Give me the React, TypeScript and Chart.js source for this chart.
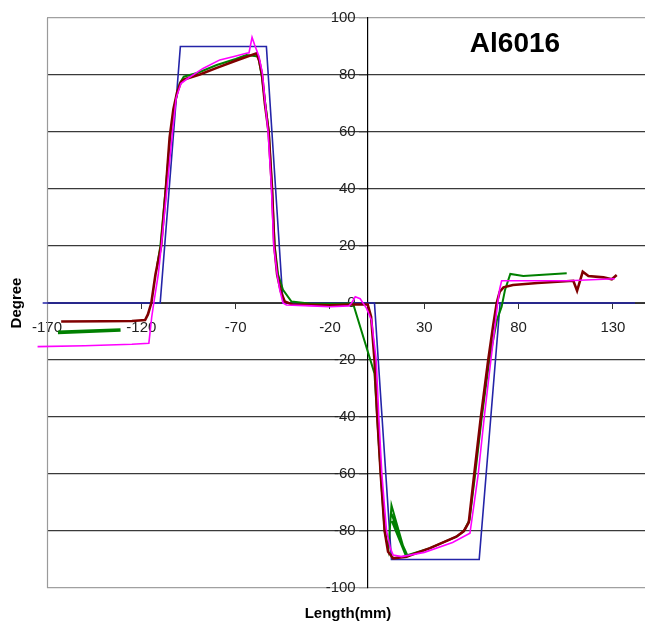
import React, { useEffect, useRef } from 'react';
import { Chart, registerables } from 'chart.js';

Chart.register(...registerables);

const CHART_TITLE = 'Al6016';
const X_TITLE = 'Length(mm)';
const Y_TITLE = 'Degree';

const xTickValues = [-170, -120, -70, -20, 30, 80, 130];
const X_MIN = -170;
const X_MAX = 147;
const Y_MIN = -100;
const Y_MAX = 100;
const Y_STEP = 20;

// Target profile (blue)
const targetX = [-172.3, -110, -99.3, -53.7, -44.9, 3.6, 12.6, 59.1, 70.2, 141.7];
const targetY = [0, 0, 90, 90, 0, 0, -90, -90, 0, 0];

// Measured profile 1 (maroon)
const maroonX = [-162.5, -140, -125, -118, -116.5, -114.7, -112.5, -109.5, -107, -105, -103, -101, -99, -97, -89, -80, -70, -59, -57.5, -56, -54.5, -52.5, -50.7, -49.5, -48, -46, -44, -40, -20, -8, 0, 1.8, 3.6, 5.1, 6.9, 9, 10.8, 13.5, 20.6, 33, 47, 51, 53.6, 56.5, 60, 63.9, 66.5, 68.4, 70, 72, 77, 90, 109, 111, 114, 117, 125, 129.4, 132];
const maroonY = [-6.5, -6.4, -6.3, -6, -4, 0, 10, 20, 40, 58, 68, 74, 77.5, 78.5, 80.2, 82.5, 85, 87.6, 85, 80, 70, 60, 40, 20, 10, 4, 0.5, -0.5, -0.8, -0.5, -0.5, -4.8, -20, -40, -60, -80, -87.3, -89.6, -89, -86, -82, -80, -77, -60, -40, -20, -8, 0, 4, 5.5, 6.3, 7, 7.8, 4.3, 11, 9.5, 9, 8.3, 9.8];

// Measured profile 2 (green), first short segment
const greenAX = [-164.2, -131];
const greenAY = [-10.3, -9.5];

// Measured profile 2 (green), main segment
const greenBX = [-111.7, -109.9, -107.1, -104.4, -101.5, -99.7, -97.5, -90, -80, -70, -64.3, -58, -56, -54.3, -52.4, -50.7, -49.3, -47.5, -44.9, -40.4, -30, -15, -7.8, 3.6, 5, 6.9, 9, 11, 12.6, 20.5, 12.7, 20.3, 12.8, 21, 33, 47, 51, 54, 57, 60.5, 64.5, 68.5, 71, 72.8, 75.6, 82.5, 95, 105.5];
const greenBY = [12.8, 20, 40, 60, 72, 77, 79.4, 80.8, 83.5, 85.6, 87, 86.5, 79, 70, 60, 40, 20, 10, 4.6, 0.5, -0.3, -0.3, -0.1, -24.7, -40, -60, -80, -86.5, -71, -89.3, -74, -88.8, -76.5, -88.5, -86, -82, -80, -76, -60, -40, -20, -6, -1.3, 4.6, 10.2, 9.5, 10, 10.4];

// Measured profile 3 (magenta)
const magentaX = [-175, -150, -125, -116, -114.5, -113.4, -111, -109.4, -106.4, -103.5, -101.5, -99, -96, -87.3, -78.4, -71.4, -64.3, -62.9, -61.3, -59.9, -57.6, -55.8, -54.6, -52.8, -51, -49.8, -48, -46.6, -44.9, -43.1, -30, -20, -10, -8.5, -6.6, -4, -2, -0.6, 2, 4.5, 5.9, 7.5, 10, 12, 13.5, 18, 30, 45, 54.2, 56.5, 58.6, 61.8, 65.3, 67.5, 68.9, 70, 71, 85, 106.3, 131];
const magentaY = [-15.3, -15, -14.5, -14.1, -5, 0, 10, 20, 40, 60, 72, 77, 78.5, 82.3, 85.3, 86.4, 87.6, 87.8, 93.2, 90.5, 86.4, 80.6, 72, 60, 40, 20, 10, 4.6, 0, -0.7, -1, -1.3, -1, 0, 2.2, 1.5, -0.5, -1.9, -6, -20, -40, -60, -80, -86, -88.4, -89, -87.5, -84, -80.8, -70, -60, -40, -20, -8, 0, 5, 7.8, 7.8, 7.8, 8.5];

const FONT = '"Liberation Sans", Arial, Helvetica, sans-serif';
const Y_LABEL_GAP = 12;

function pts(xs: number[], ys: number[]) {
  return xs.map((x, i) => ({ x, y: ys[i] }));
}

const framePlugin = {
  id: 'frameAndTexts',
  beforeDraw(chart: any) {
    // move the y tick labels to the left of the centred axis line
    const s: any = chart.scales.y;
    if (s && typeof s._computeLabelItems === 'function') {
      const items = s._computeLabelItems(chart.chartArea);
      items.forEach((it: any) => {
        const t = it.options.translation;
        it.options.translation = [t[0] - Y_LABEL_GAP, t[1]];
      });
      s._labelItems = items;
    }
  },
  beforeDatasetsDraw(chart: any) {
    const { ctx, chartArea } = chart;
    ctx.save();
    ctx.strokeStyle = '#9a9a9a';
    ctx.lineWidth = 1.2;
    ctx.beginPath();
    ctx.moveTo(chartArea.left + 0.5, chartArea.top);
    ctx.lineTo(chartArea.left + 0.5, chartArea.bottom);
    ctx.stroke();
    ctx.restore();
  },
  afterDraw(chart: any) {
    const { ctx } = chart;
    ctx.save();
    ctx.fillStyle = '#000';
    ctx.textAlign = 'center';
    ctx.textBaseline = 'middle';
    ctx.font = `bold 28px ${FONT}`;
    ctx.fillText(CHART_TITLE, 515, 44);
    ctx.font = `bold 15px ${FONT}`;
    ctx.fillText(X_TITLE, 348, 614);
    ctx.translate(17, 303);
    ctx.rotate(-Math.PI / 2);
    ctx.fillText(Y_TITLE, 0, 0);
    ctx.restore();
  },
};

export default function App() {
  const canvasRef = useRef<HTMLCanvasElement | null>(null);

  useEffect(() => {
    const canvas = canvasRef.current;
    if (!canvas) return;
    const lineDs = (label: string, xs: number[], ys: number[], color: string, width: number, order: number) => ({
      label,
      data: pts(xs, ys),
      borderColor: color,
      backgroundColor: color,
      borderWidth: width,
      pointRadius: 0,
      pointHoverRadius: 0,
      fill: false,
      tension: 0,
      clip: false as any,
      order,
    });
    const chart = new Chart(canvas, {
      type: 'line',
      data: {
        datasets: [
          lineDs('Measured 3', magentaX, magentaY, '#ff00ff', 1.6, 0),
          lineDs('Measured 1', maroonX, maroonY, '#800000', 2.6, 1),
          lineDs('Measured 2', greenBX, greenBY, '#008000', 2, 2),
          lineDs('Measured 2b', greenAX, greenAY, '#008000', 3.6, 2),
          lineDs('Target', targetX, targetY, '#2424a8', 1.6, 3),
        ],
      },
      options: {
        responsive: false,
        animation: false,
        devicePixelRatio: 1,
        layout: { padding: { left: 47, top: 18, right: 0, bottom: 36 } },
        plugins: {
          legend: { display: false },
          tooltip: { enabled: false },
          title: { display: false },
        },
        scales: {
          x: {
            type: 'linear',
            position: { y: 0 } as any,
            min: X_MIN,
            max: X_MAX,
            afterBuildTicks: (scale: any) => {
              scale.ticks = xTickValues.map((v) => ({ value: v }));
            },
            afterFit: (scale: any) => {
              scale.height = 0;
            },
            grid: {
              display: true,
              drawOnChartArea: false,
              drawTicks: true,
              tickLength: 5,
              color: '#333',
              lineWidth: 1,
            },
            border: { display: true, color: '#333', width: 1 },
            ticks: {
              autoSkip: false,
              maxRotation: 0,
              padding: 11,
              color: '#222',
              font: { family: FONT, size: 15 },
            },
          },
          y: {
            type: 'linear',
            position: { x: 0 } as any,
            min: Y_MIN,
            max: Y_MAX,
            afterFit: (scale: any) => {
              scale.width = 0;
            },
            grid: {
              display: true,
              drawOnChartArea: true,
              drawTicks: true,
              tickLength: 8,
              color: (ctx: any) => (ctx.tick && Math.abs(ctx.tick.value) === 100 ? '#a0a0a0' : '#3a3a3a'),
              lineWidth: 1.3,
            },
            border: { display: true, color: '#000', width: 1.2 },
            ticks: {
              stepSize: Y_STEP,
              padding: 3,
              color: '#222',
              font: { family: FONT, size: 15 },
            },
          },
        },
      },
      plugins: [framePlugin],
    });
    return () => chart.destroy();
  }, []);

  return (
    <div style={{ position: 'fixed', left: 0, top: 0, width: 645, height: 624, background: '#fff' }}>
      <canvas ref={canvasRef} width={645} height={624} style={{ display: 'block', width: 645, height: 624 }} />
    </div>
  );
}
